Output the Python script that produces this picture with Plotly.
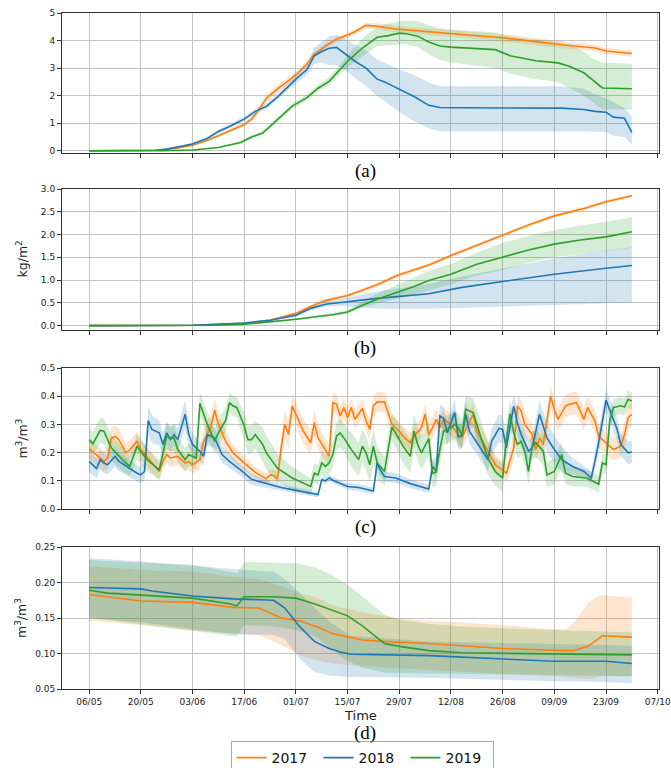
import plotly.graph_objects as go
import pandas as pd

START = pd.Timestamp("2017-05-06")
YEARS = ["2017", "2018", "2019"]
COLORS = {"2017": "#ff7f0e", "2018": "#1f77b4", "2019": "#2ca02c"}
FILLS = {"2017": "rgba(255,127,14,0.2)", "2018": "rgba(31,119,180,0.2)", "2019": "rgba(44,160,44,0.2)"}

# ---------- panel (a): (day since 06/05, mean, low, high) ----------
a_2017 = [(0,0,0,0),(14,0,0,0.01),(18,0.02,0.01,0.03),(21,0.05,0.03,0.07),(24,0.10,0.08,0.13),(28,0.20,0.17,0.24),
          (32,0.38,0.34,0.43),(35,0.55,0.50,0.61),(38,0.72,0.66,0.79),(42,0.95,0.88,1.03),(44,1.15,1.06,1.25),
          (46,1.50,1.38,1.62),(48,1.90,1.76,2.04),(51,2.25,2.11,2.40),(54,2.55,2.42,2.68),(56,2.76,2.64,2.88),
          (59,3.15,3.03,3.27),(61,3.50,3.39,3.61),(64,3.80,3.70,3.90),(67,4.05,3.95,4.15),(70,4.20,4.10,4.30),
          (72,4.32,4.22,4.42),(75,4.55,4.45,4.65),(78,4.52,4.41,4.63),(83,4.42,4.30,4.54),(92,4.31,4.19,4.43),
          (101,4.22,4.10,4.34),(112,4.10,3.97,4.23),(119,3.98,3.85,4.11),(128,3.85,3.72,3.98),(137,3.73,3.61,3.85),
          (140,3.62,3.50,3.74),(147,3.53,3.42,3.64)]
a_2018 = [(0,0,0,0),(14,0,0,0.01),(18,0.02,0.01,0.04),(21,0.06,0.04,0.08),(24,0.13,0.10,0.16),(28,0.25,0.21,0.30),
          (32,0.45,0.40,0.51),(35,0.70,0.64,0.77),(38,0.88,0.81,0.95),(42,1.15,1.07,1.24),(45,1.43,1.35,1.52),
          (48,1.61,1.52,1.72),(51,1.95,1.85,2.07),(54,2.35,2.22,2.50),(56,2.60,2.45,2.78),(59,2.95,2.75,3.15),
          (61,3.45,3.15,3.75),(63,3.60,3.20,3.95),(65,3.72,3.10,4.15),(67,3.75,3.10,4.20),(69,3.55,2.95,4.10),
          (72,3.25,2.65,3.85),(75,3.00,2.35,3.65),(78,2.60,2.00,3.30),(80,2.50,1.80,3.20),(83,2.30,1.50,3.00),
          (88,1.97,1.07,2.75),(92,1.65,0.82,2.48),(95,1.57,0.70,2.34),(100,1.56,0.70,2.34),(128,1.55,0.70,2.34),
          (134,1.50,0.70,2.25),(137,1.43,0.70,2.05),(140,1.40,0.68,1.90),(142,1.22,0.55,1.75),(145,1.18,0.50,1.55),
          (147,0.67,0.22,1.24)]
a_2019 = [(0,0,0,0),(20,0,0,0.01),(28,0.03,0.02,0.04),(35,0.12,0.10,0.15),(41,0.30,0.26,0.35),(44,0.50,0.44,0.57),
          (47,0.64,0.57,0.72),(50,1.00,0.92,1.09),(52,1.25,1.16,1.35),(55,1.62,1.52,1.73),(59,1.93,1.82,2.05),
          (62,2.27,2.15,2.40),(65,2.52,2.38,2.67),(68,2.95,2.78,3.12),(70,3.25,3.02,3.48),(74,3.73,3.42,4.08),
          (78,4.12,3.80,4.52),(81,4.18,3.82,4.62),(84,4.27,3.86,4.70),(86,4.25,3.86,4.72),(89,4.16,3.76,4.70),
          (92,3.95,3.50,4.56),(95,3.80,3.30,4.45),(98,3.76,3.20,4.40),(110,3.67,3.00,4.30),(114,3.45,2.80,4.15),
          (121,3.27,2.60,4.05),(127,3.19,2.50,3.95),(130,3.07,2.30,3.85),(134,2.83,2.00,3.60),(137,2.50,1.70,3.30),
          (139,2.28,1.50,3.20),(147,2.25,1.50,3.15)]

# ---------- panel (b): (day, mean, low, high) ----------
b_2017 = [(0,0,0,0),(28,0.01,0.005,0.015),(42,0.05,0.04,0.06),(49,0.12,0.10,0.14),(56,0.27,0.24,0.30),(60,0.42,0.38,0.46),
          (64,0.55,0.51,0.59),(68,0.63,0.59,0.67),(70,0.66,0.62,0.70),(74,0.78,0.74,0.82),(79,0.93,0.89,0.97),
          (83,1.09,1.05,1.13),(88,1.22,1.18,1.26),(92,1.33,1.29,1.37),(98,1.54,1.50,1.58),(103,1.70,1.66,1.74),
          (108,1.86,1.82,1.90),(112,2.00,1.96,2.04),(119,2.21,2.17,2.25),(126,2.41,2.37,2.45),(134,2.57,2.53,2.61),
          (140,2.72,2.68,2.76),(147,2.85,2.81,2.89)]
b_2018 = [(0,0,0,0),(28,0.01,0.005,0.015),(42,0.06,0.05,0.07),(49,0.12,0.10,0.14),(56,0.23,0.19,0.27),(60,0.38,0.33,0.43),
          (64,0.47,0.42,0.53),(68,0.51,0.43,0.58),(70,0.52,0.42,0.62),(78,0.60,0.37,0.75),(92,0.70,0.37,0.92),
          (101,0.84,0.39,1.08),(112,0.97,0.42,1.25),(126,1.13,0.46,1.48),(140,1.26,0.49,1.65),(147,1.32,0.51,1.72)]
b_2019 = [(0,0,0,0),(35,0.01,0.005,0.015),(42,0.03,0.02,0.04),(49,0.08,0.07,0.09),(56,0.14,0.12,0.16),(62,0.20,0.17,0.23),
          (66,0.24,0.21,0.28),(70,0.30,0.26,0.35),(74,0.45,0.39,0.52),(78,0.58,0.49,0.70),(83,0.72,0.58,0.88),
          (88,0.86,0.68,1.05),(92,0.99,0.78,1.20),(98,1.13,0.90,1.36),(105,1.35,1.10,1.60),(112,1.50,1.22,1.82),
          (119,1.66,1.38,1.97),(126,1.79,1.50,2.10),(133,1.88,1.58,2.20),(140,1.95,1.64,2.28),(147,2.06,1.71,2.38)]

# ---------- panel (c): (day, mean, half-spread) ----------
c_2017 = [(0,0.214,0.035),(2,0.193,0.035),(4,0.169,0.035),(5,0.180,0.035),(6,0.250,0.04),(7,0.258,0.04),(8,0.246,0.04),
          (10,0.199,0.035),(11,0.210,0.035),(13,0.240,0.035),(14,0.211,0.035),(16,0.180,0.035),(19,0.133,0.03),
          (20,0.169,0.03),(21,0.193,0.03),(22,0.181,0.03),(24,0.187,0.03),(26,0.163,0.03),(27,0.169,0.03),
          (28,0.157,0.03),(30,0.175,0.035),(31,0.240,0.04),(33,0.293,0.045),(34,0.350,0.045),(35,0.300,0.04),
          (37,0.240,0.035),(39,0.199,0.03),(42,0.163,0.025),(45,0.130,0.02),(48,0.107,0.02),(49,0.121,0.02),
          (50,0.119,0.02),(51,0.107,0.02),(52,0.217,0.04),(53,0.300,0.05),(54,0.264,0.05),(55,0.365,0.04),
          (56,0.336,0.04),(58,0.276,0.045),(60,0.235,0.045),(61,0.306,0.045),(62,0.253,0.045),(64,0.211,0.04),
          (65,0.187,0.04),(66,0.377,0.035),(67,0.372,0.035),(68,0.330,0.035),(69,0.360,0.035),(70,0.324,0.035),
          (71,0.360,0.035),(72,0.318,0.035),(74,0.357,0.035),(75,0.312,0.035),(76,0.282,0.035),(77,0.366,0.035),
          (78,0.380,0.035),(80,0.380,0.035),(81,0.342,0.035),(82,0.300,0.035),(83,0.288,0.035),(84,0.276,0.035),
          (85,0.258,0.035),(87,0.235,0.035),(88,0.258,0.035),(90,0.288,0.035),(91,0.336,0.04),(92,0.264,0.04),
          (93,0.288,0.04),(94,0.318,0.04),(95,0.288,0.04),(96,0.318,0.04),(98,0.300,0.04),(100,0.262,0.04),
          (101,0.255,0.04),(102,0.282,0.04),(104,0.336,0.04),(105,0.276,0.04),(108,0.205,0.04),(110,0.157,0.035),
          (113,0.127,0.03),(115,0.217,0.04),(116,0.365,0.04),(117,0.348,0.04),(118,0.300,0.04),(120,0.264,0.04),
          (121,0.211,0.04),(122,0.252,0.04),(123,0.228,0.04),(125,0.400,0.04),(126,0.352,0.04),(127,0.318,0.04),
          (129,0.365,0.04),(130,0.371,0.04),(132,0.377,0.04),(133,0.348,0.04),(134,0.318,0.04),(135,0.360,0.04),
          (137,0.312,0.04),(138,0.258,0.04),(140,0.235,0.04),(142,0.211,0.04),(144,0.223,0.04),(145,0.264,0.045),
          (146,0.324,0.045),(147,0.336,0.045)]
c_2018 = [(0,0.169,0.04),(2,0.143,0.035),(3,0.175,0.035),(4,0.163,0.035),(5,0.157,0.035),(7,0.187,0.035),(8,0.170,0.035),
          (10,0.152,0.03),(13,0.127,0.03),(14,0.121,0.03),(15,0.133,0.03),(16,0.314,0.05),(17,0.282,0.05),
          (19,0.270,0.045),(20,0.229,0.04),(21,0.270,0.04),(22,0.246,0.04),(23,0.264,0.04),(24,0.246,0.04),
          (26,0.336,0.05),(27,0.264,0.045),(28,0.229,0.04),(30,0.205,0.035),(31,0.187,0.035),(32,0.264,0.04),
          (34,0.252,0.035),(36,0.193,0.03),(38,0.169,0.025),(41,0.139,0.02),(44,0.105,0.02),(48,0.090,0.015),
          (52,0.076,0.012),(56,0.066,0.01),(60,0.056,0.01),(62,0.051,0.01),(63,0.104,0.012),(64,0.100,0.012),
          (65,0.110,0.012),(66,0.102,0.012),(70,0.080,0.012),(73,0.076,0.012),(77,0.064,0.012),(78,0.163,0.02),
          (79,0.135,0.02),(80,0.115,0.018),(83,0.110,0.018),(87,0.090,0.016),(92,0.071,0.014),(93,0.151,0.025),
          (94,0.135,0.025),(95,0.330,0.04),(96,0.322,0.04),(97,0.270,0.04),(99,0.342,0.045),(100,0.255,0.045),
          (101,0.262,0.045),(102,0.336,0.045),(103,0.276,0.045),(106,0.217,0.045),(108,0.175,0.04),(109,0.240,0.045),
          (111,0.286,0.05),(112,0.282,0.05),(113,0.217,0.05),(115,0.365,0.045),(116,0.306,0.045),(117,0.264,0.045),
          (119,0.205,0.04),(120,0.217,0.04),(122,0.336,0.05),(124,0.252,0.05),(126,0.211,0.05),(128,0.175,0.045),
          (131,0.151,0.03),(134,0.133,0.02),(136,0.110,0.02),(137,0.170,0.03),(138,0.235,0.04),(140,0.386,0.04),
          (141,0.354,0.04),(143,0.283,0.04),(144,0.229,0.04),(146,0.199,0.04),(147,0.202,0.04)]
c_2019 = [(0,0.246,0.04),(1,0.231,0.04),(3,0.279,0.045),(4,0.276,0.045),(6,0.217,0.045),(9,0.175,0.04),(11,0.151,0.035),
          (13,0.223,0.045),(14,0.203,0.045),(16,0.171,0.04),(19,0.139,0.035),(21,0.258,0.045),(22,0.250,0.045),
          (23,0.252,0.045),(24,0.211,0.045),(26,0.175,0.04),(27,0.193,0.04),(29,0.180,0.04),(30,0.375,0.04),
          (32,0.300,0.045),(34,0.240,0.045),(35,0.270,0.045),(37,0.315,0.045),(38,0.377,0.035),(39,0.365,0.035),
          (40,0.360,0.035),(42,0.295,0.05),(43,0.246,0.05),(44,0.246,0.05),(45,0.264,0.05),(47,0.229,0.06),
          (48,0.199,0.06),(51,0.145,0.05),(55,0.110,0.04),(60,0.080,0.03),(61,0.127,0.035),(62,0.121,0.035),
          (63,0.163,0.04),(64,0.151,0.04),(65,0.163,0.04),(66,0.193,0.045),(67,0.258,0.05),(68,0.270,0.05),
          (69,0.252,0.05),(71,0.211,0.06),(73,0.175,0.06),(74,0.223,0.06),(75,0.199,0.06),(76,0.157,0.06),
          (77,0.223,0.06),(78,0.163,0.06),(80,0.133,0.05),(82,0.290,0.05),(83,0.270,0.05),(85,0.223,0.06),
          (87,0.187,0.06),(88,0.276,0.06),(89,0.229,0.06),(90,0.199,0.06),(92,0.250,0.06),(93,0.127,0.05),
          (94,0.131,0.05),(95,0.211,0.05),(96,0.276,0.05),(98,0.288,0.05),(99,0.300,0.05),(100,0.288,0.05),
          (101,0.262,0.05),(102,0.354,0.05),(104,0.342,0.05),(106,0.258,0.06),(108,0.181,0.06),(110,0.133,0.05),
          (112,0.110,0.05),(113,0.246,0.05),(114,0.338,0.05),(115,0.270,0.05),(116,0.229,0.05),(117,0.240,0.05),
          (118,0.205,0.05),(119,0.133,0.045),(120,0.223,0.05),(121,0.235,0.05),(123,0.205,0.05),(124,0.121,0.045),
          (126,0.133,0.045),(128,0.193,0.045),(129,0.127,0.04),(131,0.115,0.035),(135,0.109,0.03),(138,0.088,0.03),
          (139,0.163,0.035),(140,0.157,0.035),(141,0.312,0.035),(142,0.360,0.03),(144,0.366,0.03),(145,0.362,0.03),
          (146,0.389,0.03),(147,0.383,0.03)]

# ---------- panel (d): (day, mean, low, high) ----------
d_2017 = [(0,0.183,0.146,0.223),(14,0.174,0.140,0.218),(28,0.172,0.132,0.215),(39,0.165,0.128,0.208),(46,0.164,0.126,0.205),
          (52,0.150,0.112,0.195),(57,0.146,0.098,0.185),(62,0.137,0.090,0.178),(66,0.128,0.086,0.168),(74,0.119,0.082,0.158),
          (83,0.116,0.079,0.150),(92,0.114,0.077,0.146),(112,0.107,0.071,0.140),(126,0.104,0.068,0.134),(129,0.104,0.067,0.134),
          (131,0.104,0.066,0.142),(133,0.107,0.065,0.155),(135,0.110,0.064,0.170),(137,0.117,0.065,0.178),(139,0.125,0.068,0.182),
          (147,0.123,0.068,0.179)]
d_2018 = [(0,0.193,0.150,0.234),(14,0.191,0.144,0.230),(17,0.188,0.142,0.228),(28,0.181,0.135,0.223),(39,0.177,0.127,0.219),
          (50,0.175,0.126,0.215),(53,0.164,0.120,0.205),(57,0.138,0.093,0.185),(61,0.117,0.074,0.165),(65,0.107,0.069,0.145),
          (68,0.102,0.068,0.135),(71,0.099,0.067,0.125),(92,0.097,0.066,0.117),(112,0.092,0.063,0.115),(126,0.089,0.061,0.113),
          (140,0.089,0.060,0.112),(147,0.086,0.058,0.111)]
d_2019 = [(0,0.189,0.150,0.232),(5,0.185,0.147,0.230),(28,0.178,0.132,0.225),(38,0.170,0.125,0.215),(40,0.167,0.124,0.213),
          (42,0.180,0.140,0.229),(50,0.180,0.138,0.228),(56,0.178,0.133,0.227),(61,0.170,0.125,0.222),(66,0.160,0.105,0.210),
          (70,0.153,0.090,0.197),(74,0.139,0.080,0.180),(80,0.114,0.073,0.155),(84,0.110,0.072,0.148),(92,0.104,0.072,0.142),
          (101,0.101,0.071,0.138),(119,0.100,0.070,0.134),(147,0.098,0.068,0.130)]

PANELS = [
    {"data": {"2017": a_2017, "2018": a_2018, "2019": a_2019}, "kind": "lohi", "range": [-0.08, 5.0],
     "tickvals": [0, 1, 2, 3, 4, 5], "fmt": "d", "title": None, "label": "(a)", "top": 13, "bottom": 153},
    {"data": {"2017": b_2017, "2018": b_2018, "2019": b_2019}, "kind": "lohi", "range": [-0.095, 3.0],
     "tickvals": [0, 0.5, 1.0, 1.5, 2.0, 2.5, 3.0], "fmt": ".1f", "title": "kg/m<sup>2</sup>", "label": "(b)", "top": 189, "bottom": 330},
    {"data": {"2017": c_2017, "2018": c_2018, "2019": c_2019}, "kind": "spread", "range": [0, 0.5],
     "tickvals": [0, 0.1, 0.2, 0.3, 0.4, 0.5], "fmt": ".1f", "title": "m<sup>3</sup>/m<sup>3</sup>", "label": "(c)", "top": 368, "bottom": 509},
    {"data": {"2017": d_2017, "2018": d_2018, "2019": d_2019}, "kind": "lohi", "range": [0.05, 0.25],
     "tickvals": [0.05, 0.10, 0.15, 0.20, 0.25], "fmt": ".2f", "title": "m<sup>3</sup>/m<sup>3</sup>", "label": "(d)", "top": 547, "bottom": 689},
]

W, H = 671, 768
ML, MR = 62, 12
PW = W - ML - MR

def py(p):
    return 1 - p / H

fig = go.Figure()
layout = {}
annotations = []

for i, P in enumerate(PANELS, start=1):
    xa = "x" if i == 1 else f"x{i}"
    ya = "y" if i == 1 else f"y{i}"
    for yr in YEARS:
        rows = P["data"][yr]
        xs = [START + pd.Timedelta(days=r[0]) for r in rows]
        if P["kind"] == "lohi":
            lo = [r[2] for r in rows]
            hi = [r[3] for r in rows]
        else:
            lo = [r[1] - r[2] for r in rows]
            hi = [r[1] + r[2] for r in rows]
        fig.add_trace(go.Scatter(x=xs + xs[::-1], y=hi + lo[::-1], fill="toself", fillcolor=FILLS[yr],
                                 line=dict(color="rgba(0,0,0,0)", width=0), mode="lines",
                                 hoverinfo="skip", showlegend=False, xaxis=xa, yaxis=ya))
    for yr in YEARS:
        rows = P["data"][yr]
        xs = [START + pd.Timedelta(days=r[0]) for r in rows]
        ys = [r[1] for r in rows]
        fig.add_trace(go.Scatter(x=xs, y=ys, mode="lines", name=yr, line=dict(color=COLORS[yr], width=1.6),
                                 showlegend=(i == 1), xaxis=xa, yaxis=ya))

    xkey = "xaxis" if i == 1 else f"xaxis{i}"
    ykey = "yaxis" if i == 1 else f"yaxis{i}"
    layout[xkey] = dict(
        domain=[0, 1], anchor=ya, type="date",
        range=[START - pd.Timedelta(days=7.35), START + pd.Timedelta(days=154.35)],
        tick0=START, dtick=14 * 86400000, tickformat="%d/%m",
        showticklabels=(i == 4), ticks="outside", ticklen=4, tickcolor="#333",
        showgrid=True, gridcolor="#c4c4c4", gridwidth=1,
        showline=True, linecolor="#333", linewidth=1, mirror=True, zeroline=False,
        tickfont=dict(size=9, color="#222"),
    )
    if i != 1:
        layout[xkey]["matches"] = "x"
    layout[ykey] = dict(
        domain=[py(P["bottom"]), py(P["top"])], anchor=xa, range=P["range"],
        tickmode="array", tickvals=P["tickvals"], tickformat=P["fmt"],
        ticks="outside", ticklen=4, tickcolor="#333",
        showgrid=True, gridcolor="#c4c4c4", gridwidth=1,
        showline=True, linecolor="#333", linewidth=1, mirror=True, zeroline=False,
        tickfont=dict(size=9, color="#222"),
    )
    label_y = P["bottom"] + 18 if i < 4 else 733
    annotations.append(dict(text=P["label"], x=(365 - ML) / PW, y=py(label_y), xref="paper", yref="paper",
                            showarrow=False, font=dict(family="Liberation Serif", size=19, color="#000"),
                            xanchor="center", yanchor="middle"))
    if P["title"]:
        annotations.append(dict(text=P["title"], x=(21 - ML) / PW, y=py((P["top"] + P["bottom"]) / 2),
                                xref="paper", yref="paper", showarrow=False, textangle=-90,
                                font=dict(family="DejaVu Sans", size=12.5, color="#222"),
                                xanchor="center", yanchor="middle"))

annotations.append(dict(text="Time", x=(360 - ML) / PW, y=py(715), xref="paper", yref="paper", showarrow=False,
                        font=dict(family="DejaVu Sans", size=13, color="#222"), xanchor="center", yanchor="middle"))

fig.update_layout(
    width=W, height=H, margin=dict(l=ML, r=MR, t=0, b=0, autoexpand=False),
    paper_bgcolor="white", plot_bgcolor="white",
    font=dict(family="DejaVu Sans", color="#222"),
    annotations=annotations,
    legend=dict(orientation="h", x=(362 - ML) / PW, y=py(741), xanchor="center", yanchor="top",
                bordercolor="#aaaaaa", borderwidth=1, bgcolor="white",
                font=dict(size=14, color="#111"), entrywidth=42, entrywidthmode="pixels",
                itemwidth=30, tracegroupgap=0),
    **layout,
)

fig.write_html("out.html", config={"displayModeBar": False},
               post_script="document.body.style.margin='0';")
